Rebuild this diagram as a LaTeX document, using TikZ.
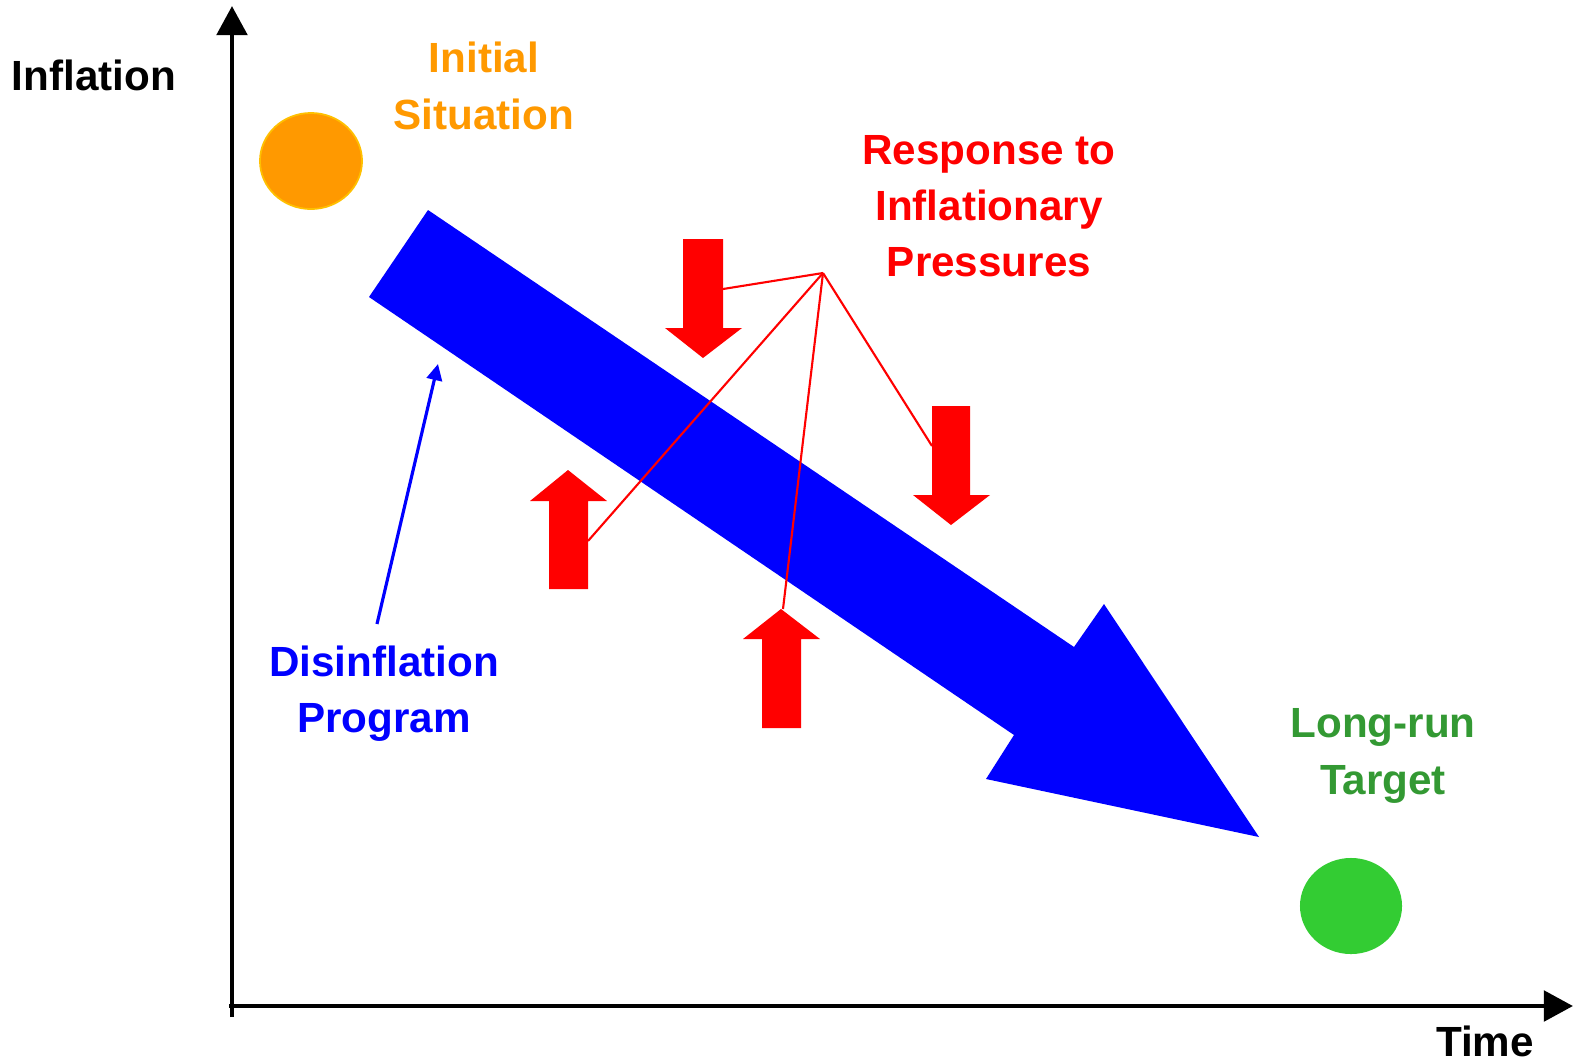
\documentclass[tikz,border=0pt]{standalone}
\usepackage{fontspec}
\setmainfont{Liberation Sans}
\usetikzlibrary{arrows.meta,shapes.geometric}
\definecolor{orng}{HTML}{FF9900}
\definecolor{orngb}{HTML}{FFC000}
\definecolor{rd}{HTML}{FF0000}
\definecolor{bl}{HTML}{0000FF}
\definecolor{grn}{HTML}{33CC33}
\definecolor{grnt}{HTML}{339933}
\begin{document}
\begin{tikzpicture}[x=0.01cm,y=-0.01cm,
  lbl/.style={font=\fontsize{12}{16}\selectfont\bfseries, align=center, inner sep=0pt},
  axisline/.style={line width=1.4pt, black, -{Triangle[length=8.3pt,width=8.6pt]}},
  redarrow/.style={fill=rd, draw=none},
  redlink/.style={rd, line width=0.6pt},
  dot/.style={ellipse, minimum width=1.02cm, minimum height=0.96cm, inner sep=0pt}]
\useasboundingbox (0,0) rectangle (1575,1060);
% axes
\coordinate (yb) at (232,1017);
\coordinate (yt) at (232,6);
\coordinate (xl) at (229,1006);
\coordinate (xr) at (1573,1006);
\draw[axisline] (yb) -- (yt);
\draw[axisline] (xl) -- (xr);
% circles
\node[dot, fill=orng, draw=orngb, line width=0.5pt] (init) at (311,161) {};
\node[dot, fill=grn] (target) at (1351,906) {};
% big blue arrow
\fill[bl] (428,210) -- (1074,647) -- (1104,604) -- (1259,837) -- (986,779) -- (1014,735) -- (369,297) -- cycle;
% red arrows
\fill[redarrow] (683,239) -- (723,239) -- (723,328) -- (742,328) -- (703,358) -- (665,328) -- (683,328) -- cycle;
\fill[redarrow] (549,589) -- (588,589) -- (588,501) -- (607,501) -- (568,470) -- (530,501) -- (549,501) -- cycle;
\fill[redarrow] (932,406) -- (970,406) -- (970,495) -- (990,495) -- (951,525) -- (913,495) -- (932,495) -- cycle;
\fill[redarrow] (762,728) -- (801,728) -- (801,639) -- (820,639) -- (781,609) -- (743,639) -- (762,639) -- cycle;
% red links
\coordinate (hub) at (823,273);
\coordinate (d1) at (723,289);
\coordinate (u1) at (588,541);
\coordinate (u2) at (783,609);
\coordinate (d2) at (932,446);
\draw[redlink] (hub) -- (d1);
\draw[redlink] (hub) -- (u1);
\draw[redlink] (hub) -- (u2);
\draw[redlink] (hub) -- (d2);
% thin blue arrow
\coordinate (bs) at (377,624);
\coordinate (be) at (438,364);
\draw[bl, line width=0.9pt, -{Triangle[length=4.6pt,width=4.4pt]}] (bs) -- (be);
% labels
\node[lbl] (infl) at (94,75) {Inflation};
\node[lbl, text=orng] (initlbl) at (484,86) {Initial\\Situation};
\node[lbl, text=rd] (resp) at (989,206) {Response to\\Inflationary\\Pressures};
\node[lbl, text=bl] (disinf) at (384,694) {Disinflation\\Program};
\node[lbl, text=grnt] (lr) at (1383,756) {Long-run\\Target};
\node[lbl] (time) at (1485,1041) {Time};
\end{tikzpicture}
\end{document}
